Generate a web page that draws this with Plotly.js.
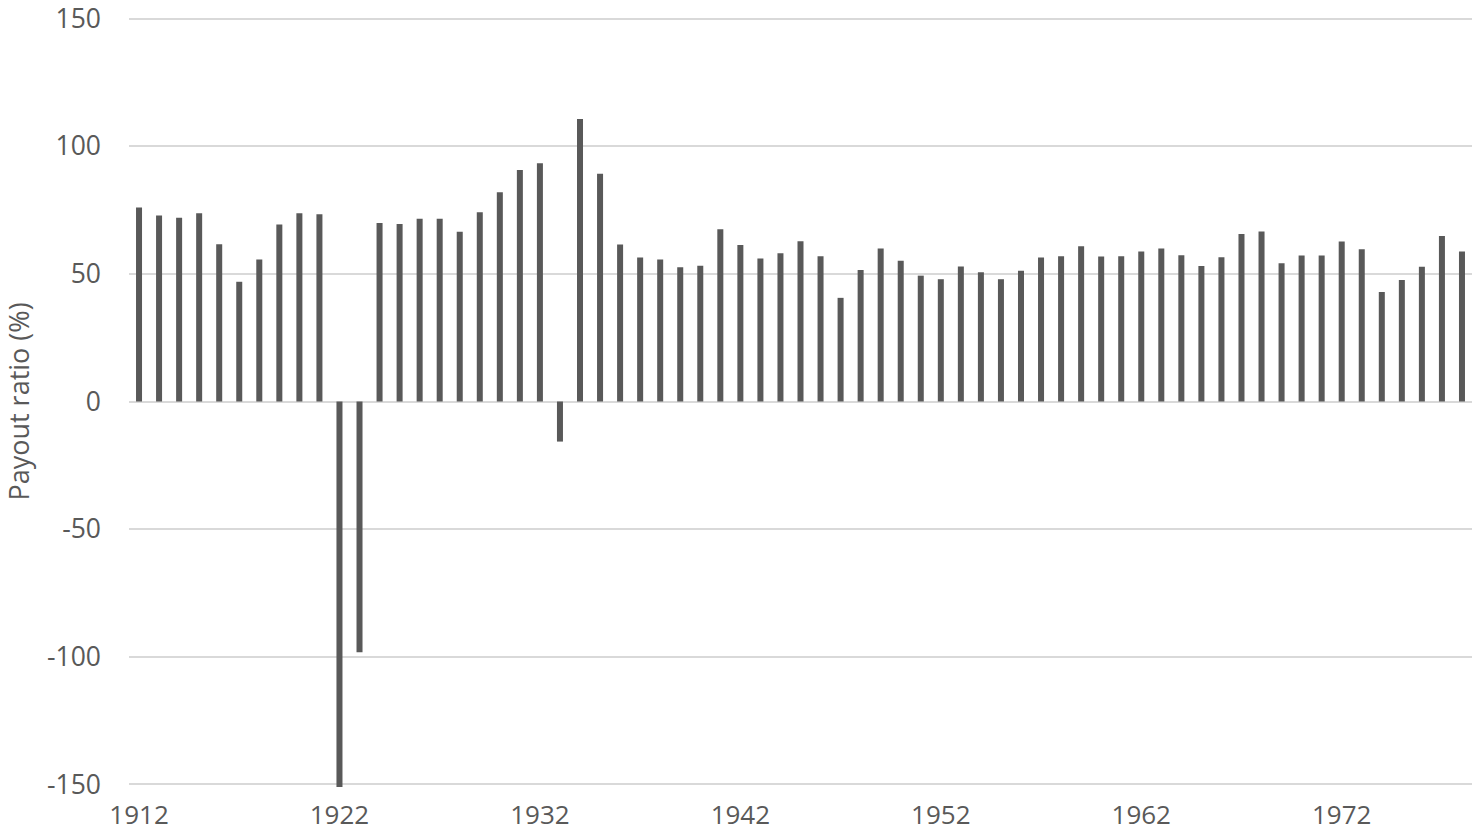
<!DOCTYPE html>
<html>
<head>
<meta charset="utf-8">
<script src="https://cdn.plot.ly/plotly-3.0.1.min.js"></script>
<style>html,body{margin:0;padding:0;background:#fff;}#chart{width:1475px;height:834px;}</style>
</head>
<body>
<div id="chart"></div>
<script>
const years = [];
for (let y = 1912; y <= 1978; y++) years.push(String(y));

const payoutRatio = [
  76.0, 72.9, 72.0, 73.7, 61.6, 46.9, 55.6, 69.3, 73.7, 73.3,
  -151.0, -98.2, 69.9, 69.5, 71.6, 71.6, 66.5, 74.1, 82.0, 90.7,
  93.3, -15.7, 110.7, 89.2, 61.5, 56.4, 55.6, 52.6, 53.2, 67.5,
  61.3, 56.0, 58.1, 62.8, 56.9, 40.6, 51.5, 59.9, 55.1, 49.3,
  47.9, 52.9, 50.6, 47.9, 51.2, 56.4, 56.9, 60.8, 56.8, 56.9,
  58.8, 59.9, 57.3, 53.1, 56.5, 65.6, 66.6, 54.2, 57.2, 57.2,
  62.7, 59.6, 42.9, 47.6, 52.8, 64.8, 58.8
];

const xTickLabels = ['1912', '1922', '1932', '1942', '1952', '1962', '1972'];
const yTickValues = [-150, -100, -50, 0, 50, 100, 150];
const yTickText = ['-150', '-100', '-50', '0', '50', '100', '150'];

const trace = {
  type: 'bar',
  x: years,
  y: payoutRatio,
  marker: {color: '#595959'},
  hoverinfo: 'x+y'
};

const layout = {
  width: 1475,
  height: 834,
  margin: {l: 129, r: 3, t: 16, b: 47},
  paper_bgcolor: '#ffffff',
  plot_bgcolor: '#ffffff',
  bargap: 0.7,
  showlegend: false,
  font: {family: 'Open Sans, sans-serif', color: '#595959', size: 26},
  xaxis: {
    type: 'category',
    range: [-0.5, years.length - 0.5],
    tickmode: 'array',
    tickvals: xTickLabels,
    ticktext: xTickLabels,
    showgrid: false,
    zeroline: false,
    showline: false,
    ticks: '',
    ticklabelstandoff: 10,
    tickfont: {size: 26, color: '#595959'}
  },
  yaxis: {
    range: [-151, 151],
    tickmode: 'array',
    tickvals: yTickValues,
    ticktext: yTickText,
    showgrid: true,
    gridcolor: '#d9d9d9',
    gridwidth: 2,
    zeroline: true,
    zerolinecolor: '#d9d9d9',
    zerolinewidth: 2,
    showline: false,
    ticks: '',
    ticklabelstandoff: 27,
    ticklabeloverflow: 'allow',
    tickfont: {size: 26.5, color: '#595959'},
    title: {text: 'Payout ratio (%)', font: {size: 27, color: '#595959', family: 'Open Sans, sans-serif'}, standoff: 10}
  }
};

Plotly.newPlot('chart', [trace], layout, {displayModeBar: false, staticPlot: true});
</script>
</body>
</html>
